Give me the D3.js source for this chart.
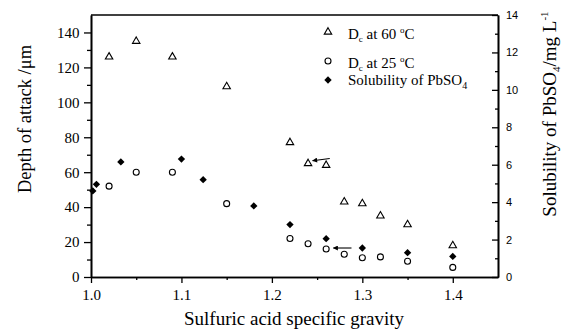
<!DOCTYPE html>
<html>
<head>
<meta charset="utf-8">
<script src="https://cdn.jsdelivr.net/npm/d3@7/dist/d3.min.js"></script>
<style>
  html, body { margin: 0; padding: 0; background: #fff; }
  svg { display: block; }
  .serif { font-family: "Liberation Serif", "DejaVu Serif", "Times New Roman", Times, serif; }
  .sans { font-family: "Liberation Sans", Arial, Helvetica, sans-serif; }
</style>
</head>
<body>
<svg id="chart" width="562" height="331"></svg>
<script>
// Depth of attack (left axis, µm) at two temperatures
const gravity60 = [1.02, 1.05, 1.09, 1.15, 1.22, 1.24, 1.26, 1.28, 1.30, 1.32, 1.35, 1.40];
const depth60   = [126, 135, 126, 109, 77, 65, 64, 43, 42, 35, 30, 18];
const gravity25 = [1.02, 1.05, 1.09, 1.15, 1.22, 1.24, 1.26, 1.28, 1.30, 1.32, 1.35, 1.40];
const depth25   = [52, 60, 60, 42, 22, 19, 16, 13, 11, 11.5, 9, 5.5];
// PbSO4 solubility (right axis, mg/L)
const gravitySol = [1.002, 1.006, 1.033, 1.10, 1.124, 1.18, 1.22, 1.26, 1.30, 1.35, 1.40];
const solubility = [4.6, 4.95, 6.15, 6.3, 5.2, 3.8, 2.8, 2.05, 1.55, 1.3, 1.1];

const xTicks = [1.0, 1.1, 1.2, 1.3, 1.4];
const leftTicks = [0, 20, 40, 60, 80, 100, 120, 140];
const rightTicks = [0, 2, 4, 6, 8, 10, 12, 14];

const svg = d3.select("#chart");
const L = 91, R = 498, T = 15, B = 277;

const x = d3.scaleLinear().domain([1.0, 1.45]).range([L, R]);
const yL = d3.scaleLinear().domain([0, 150]).range([B, T]);
const yR = d3.scaleLinear().domain([0, 14]).range([B, T]);

// axes
const gx = svg.append("g").attr("transform", `translate(0,${B})`)
  .call(d3.axisBottom(x).tickValues(xTicks).tickFormat(d3.format(".1f")).tickSize(6).tickSizeOuter(0));
const gxm = svg.append("g").attr("transform", `translate(0,${B})`)
  .call(d3.axisBottom(x).tickValues([1.05, 1.15, 1.25, 1.35]).tickFormat("").tickSize(3).tickSizeOuter(0));
const gl = svg.append("g").attr("transform", `translate(${L},0)`)
  .call(d3.axisLeft(yL).tickValues(leftTicks).tickSize(7).tickSizeOuter(0));
const glm = svg.append("g").attr("transform", `translate(${L},0)`)
  .call(d3.axisLeft(yL).tickValues([10, 30, 50, 70, 90, 110, 130]).tickFormat("").tickSize(4).tickSizeOuter(0));
const gr = svg.append("g").attr("transform", `translate(${R},0)`)
  .call(d3.axisRight(yR).tickValues(rightTicks).tickSize(-6).tickPadding(8).tickSizeOuter(0));
const grm = svg.append("g").attr("transform", `translate(${R},0)`)
  .call(d3.axisRight(yR).tickValues([1, 3, 5, 7, 9, 11, 13]).tickFormat("").tickSize(-3).tickSizeOuter(0));

[gx, gxm, gl, glm, gr, grm].forEach(g => {
  g.attr("font-family", null);
  g.selectAll("path").attr("stroke", "#000").attr("stroke-width", 1.6);
  g.selectAll("line").attr("stroke", "#000").attr("stroke-width", 1.3);
});
gx.selectAll("text").attr("class", "serif").style("font-size", "15px").attr("fill", "#000").attr("dy", "0.95em");
gl.selectAll("text").attr("class", "serif").style("font-size", "15px").attr("fill", "#000").attr("dx", "-0.1em");
gr.selectAll("text").attr("class", "sans").style("font-size", "11px").attr("fill", "#000");

// frame top
svg.append("line").attr("x1", L).attr("x2", R).attr("y1", T).attr("y2", T)
  .attr("stroke", "#000").attr("stroke-width", 1.6);

// symbols
const triangle = d3.symbol().type(d3.symbolTriangle).size(24);
const diamond = d3.symbol().type(d3.symbolSquare).size(27);

const plot = svg.append("g");
plot.selectAll(".t60").data(gravity60.map((g, i) => [g, depth60[i]])).join("path")
  .attr("d", triangle)
  .attr("transform", d => `translate(${x(d[0])},${yL(d[1])})`)
  .attr("fill", "none").attr("stroke", "#000").attr("stroke-width", 1.1);
plot.selectAll(".c25").data(gravity25.map((g, i) => [g, depth25[i]])).join("circle")
  .attr("cx", d => x(d[0])).attr("cy", d => yL(d[1])).attr("r", 3)
  .attr("fill", "none").attr("stroke", "#000").attr("stroke-width", 1.1);
plot.selectAll(".sol").data(gravitySol.map((g, i) => [g, solubility[i]])).join("path")
  .attr("d", diamond)
  .attr("transform", d => `translate(${x(d[0])},${yR(d[1])}) rotate(45)`)
  .attr("fill", "#000");

// arrows
const defs = svg.append("defs");
defs.append("marker").attr("id", "head").attr("viewBox", "0 0 10 10")
  .attr("refX", 9).attr("refY", 5).attr("markerWidth", 7).attr("markerHeight", 5)
  .attr("orient", "auto").attr("markerUnits", "userSpaceOnUse")
  .append("path").attr("d", "M0,0 L10,5 L0,10 Z").attr("fill", "#000");
const arrows = [
  { x1: 1.264, y1: 67.8, x2: 1.245, y2: 66.6 },
  { x1: 1.288, y1: 16.6, x2: 1.268, y2: 16.6 }
];
plot.selectAll(".arrow").data(arrows).join("line")
  .attr("x1", d => x(d.x1)).attr("y1", d => yL(d.y1))
  .attr("x2", d => x(d.x2)).attr("y2", d => yL(d.y2))
  .attr("stroke", "#000").attr("stroke-width", 1.1).attr("marker-end", "url(#head)");

// legend
const lg = svg.append("g").attr("class", "serif").style("font-size", "15px").attr("fill", "#000");
lg.append("path").attr("d", triangle).attr("transform", "translate(328,32)")
  .attr("fill", "none").attr("stroke", "#000").attr("stroke-width", 1.1);
lg.append("circle").attr("cx", 328).attr("cy", 61).attr("r", 3)
  .attr("fill", "none").attr("stroke", "#000").attr("stroke-width", 1.1);
lg.append("path").attr("d", diamond).attr("transform", "translate(328,80) rotate(45)").attr("fill", "#000");

function dLabel(y, temp) {
  const t = lg.append("text").attr("x", 348).attr("y", y);
  t.append("tspan").text("D");
  t.append("tspan").style("font-size", "9px").attr("dy", 3).text("c");
  t.append("tspan").attr("dy", -3).text(` at ${temp}`);
  t.append("tspan").style("font-size", "9px").attr("dy", -6).text("o");
  t.append("tspan").attr("dy", 6).text("C");
}
dLabel(39, "60 ");
dLabel(68, "25 ");
const sl = lg.append("text").attr("x", 348).attr("y", 85);
sl.append("tspan").text("Solubility of PbSO");
sl.append("tspan").style("font-size", "10px").attr("dy", 4).text("4");

// axis titles
svg.append("text").attr("class", "serif").style("font-size", "19px").attr("fill", "#000")
  .attr("text-anchor", "middle").attr("x", 294).attr("y", 325)
  .text("Sulfuric acid specific gravity");

svg.append("text").attr("class", "serif").style("font-size", "18.5px").attr("fill", "#000")
  .attr("text-anchor", "middle")
  .attr("transform", "translate(31,119) rotate(-90)")
  .text("Depth of attack /\u03BCm");

const rt = svg.append("text").attr("class", "serif").style("font-size", "19px").attr("fill", "#000")
  .attr("text-anchor", "middle")
  .attr("transform", "translate(556,114) rotate(-90)");
rt.append("tspan").text("Solubility of PbSO");
rt.append("tspan").style("font-size", "11px").attr("dy", 4).text("4");
rt.append("tspan").attr("dy", -4).text("/mg L");
rt.append("tspan").style("font-size", "11px").attr("dy", -8).text("-1");
</script>
</body>
</html>
